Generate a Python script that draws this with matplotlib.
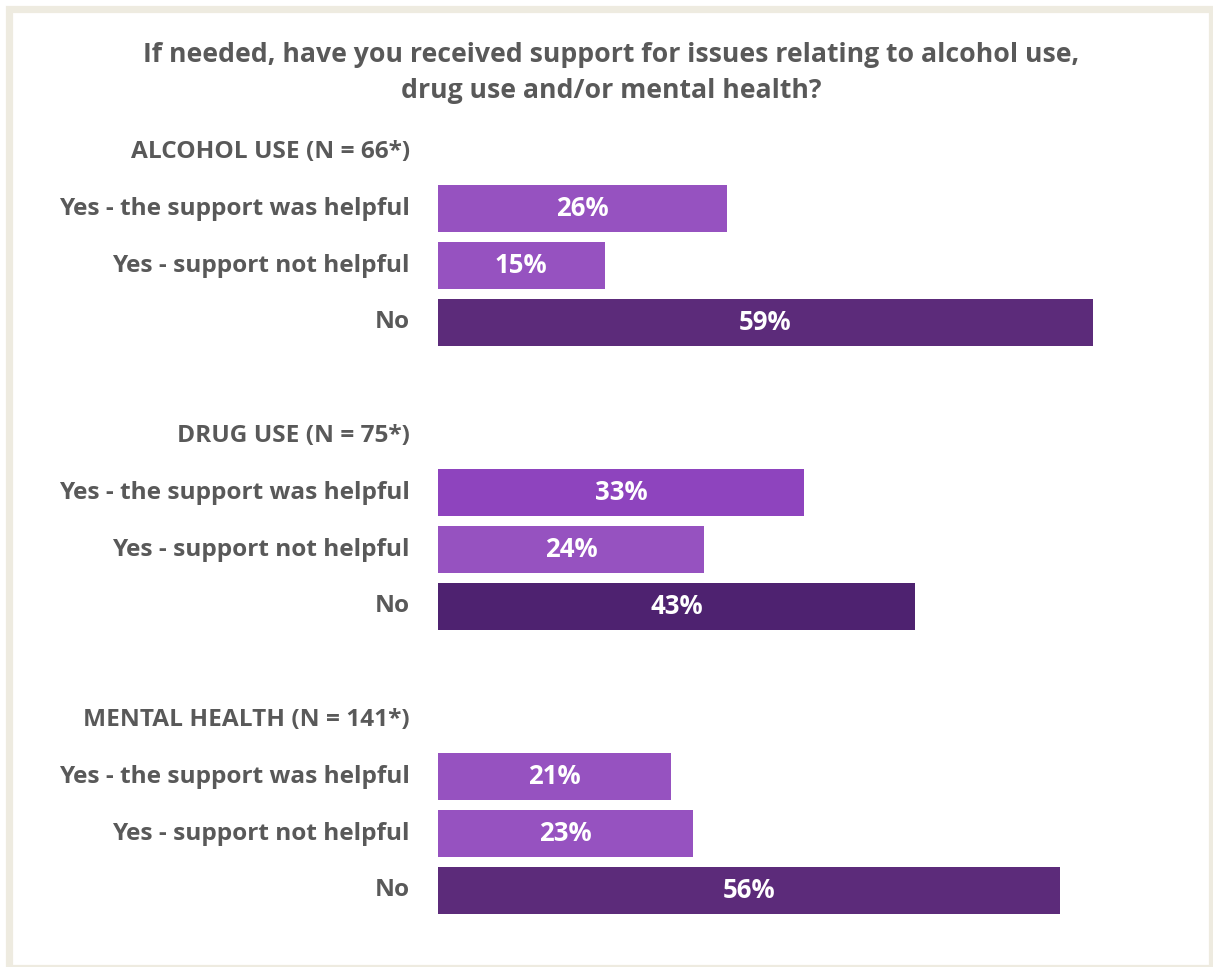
import matplotlib.pyplot as plt
from matplotlib.patches import Rectangle

title = "If needed, have you received support for issues relating to alcohol use,\ndrug use and/or mental health?"
groups = ["ALCOHOL USE (N = 66*)", "DRUG USE (N = 75*)", "MENTAL HEALTH (N = 141*)"]
answers = ["Yes - the support was helpful", "Yes - support not helpful", "No"]
alcohol = [26, 15, 59]
drugs = [33, 24, 43]
mental = [21, 23, 56]
values = [alcohol, drugs, mental]
colors = [["#9652C0", "#9652C0", "#5C2B7A"],
          ["#8E44BE", "#9652C0", "#4E2270"],
          ["#9652C0", "#9652C0", "#5C2B7A"]]

W, H = 1213, 967
fig = plt.figure(figsize=(W / 100, H / 100), dpi=100)
fig.patch.set_facecolor("white")

# beige frame
frame = Rectangle((8.5 / W, 1 - 968 / H), (1212 - 8.5) / W, (968 - 8.5) / H,
                  transform=fig.transFigure, fill=False, edgecolor="#EEEBE0",
                  linewidth=5.2, zorder=0)
fig.add_artist(frame)

fig.text(611 / W, 1 - 73.5 / H, title, ha="center", va="center", fontsize=19.2,
         fontweight="bold", color="#595959", family="Open Sans", linespacing=1.5)

# axes: x from 438px (0%) at 11.1 px per %, rows 56.8 px apart starting at y=152
x0, ppu = 438, 11.1
xmax = 65
row, y_head = 56.8, 152
ylo, yhi = -0.5, 13.5
ax = fig.add_axes([x0 / W, 1 - (y_head + row * yhi) / H, ppu * xmax / W, row * (yhi - ylo) / H])
ax.set_xlim(0, xmax)
ax.set_ylim(yhi, ylo)
ax.axis("off")

lab_x = 410
fs = 17.6
for g, name in enumerate(groups):
    base = g * 5
    ax.text(-(x0 - lab_x) / ppu, base, name, ha="right", va="center", fontsize=fs,
            fontweight="bold", color="#595959", family="Open Sans")
    for i, ans in enumerate(answers):
        y = base + 1 + i
        v = values[g][i]
        ax.barh(y, v, height=0.83, color=colors[g][i], linewidth=0)
        ax.text(-(x0 - lab_x) / ppu, y, ans, ha="right", va="center", fontsize=fs,
                fontweight="bold", color="#595959", family="Open Sans")
        ax.text(v / 2, y, f"{v}%", ha="center", va="center", fontsize=18.5,
                fontweight="bold", color="white", family="Open Sans")

fig.savefig("out.png", dpi=100, facecolor="white")
